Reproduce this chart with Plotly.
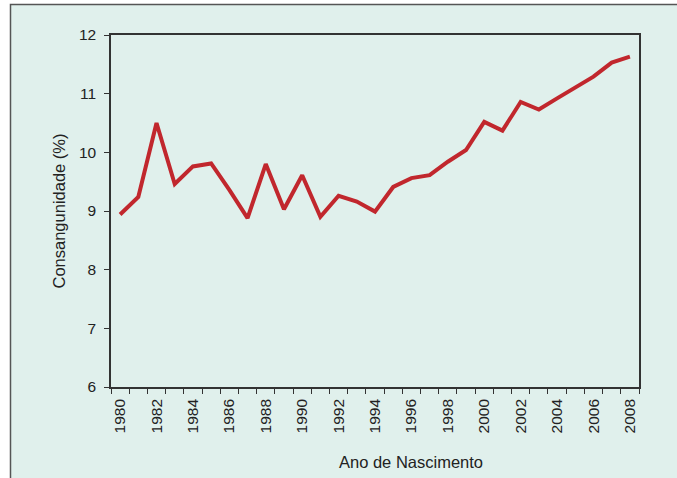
import plotly.graph_objects as go

years = list(range(1980, 2009))
consang = [8.94, 9.24, 10.50, 9.46, 9.76, 9.81, 9.36, 8.88, 9.80, 9.03,
           9.61, 8.90, 9.26, 9.16, 8.99, 9.41, 9.56, 9.61, 9.84, 10.04,
           10.52, 10.37, 10.86, 10.73, 10.92, 11.10, 11.29, 11.53, 11.63]
x_tick_labels = [str(y) for y in range(1980, 2009, 2)]
y_ticks = [6, 7, 8, 9, 10, 11, 12]

BG = "#E0F0EC"
FONT = "Liberation Sans, Arial, sans-serif"
FS = 16.5
TFS = 15.5

fig = go.Figure()
fig.add_trace(go.Scatter(
    x=years, y=consang, mode="lines",
    line=dict(color="#C1272D", width=4),
    hoverinfo="skip", showlegend=False,
))

L, R, T, B = 111, 38, 35, 91
W, H = 677, 478
pw, ph = W - L - R, H - T - B

def px2x(p):
    return (p - L) / pw

def px2y(q):
    return (H - B - q) / ph

fig.add_shape(type="rect", xref="paper", yref="paper",
              x0=px2x(10.5), x1=px2x(W + 10), y0=px2y(H + 10), y1=px2y(4.5),
              line=dict(color="#555555", width=1.5), fillcolor=BG, layer="below")

fig.add_annotation(text="Ano de Nascimento", xref="paper", yref="paper",
                   x=px2x(411), y=px2y(462), xanchor="center", yanchor="middle",
                   showarrow=False,
                   font=dict(family=FONT, size=FS, color="#222222"))

fig.update_layout(
    width=W, height=H,
    margin=dict(l=L, r=R, t=T, b=B, autoexpand=False),
    paper_bgcolor="white",
    plot_bgcolor=BG,
    font=dict(family=FONT, size=TFS, color="#222222"),
    xaxis=dict(
        range=[1979.5, 2008.5],
        tickmode="array",
        tickvals=[int(t) for t in x_tick_labels],
        ticktext=x_tick_labels,
        tickangle=-90,
        ticks="",
        ticklabelstandoff=4,
        showgrid=False, zeroline=False,
        showline=True, linecolor="#333333", linewidth=1.5, mirror=True,
        minor=dict(tickmode="linear", tick0=1979.5, dtick=1, ticks="outside",
                   ticklen=5, tickcolor="#333333", tickwidth=1.2, showgrid=False),
        automargin=False,
        fixedrange=True,
    ),
    yaxis=dict(
        range=[6, 12],
        tickmode="array",
        tickvals=y_ticks,
        ticktext=[str(v) for v in y_ticks],
        ticks="outside", ticklen=5, tickcolor="#333333", tickwidth=1.2,
        ticklabelstandoff=5,
        showgrid=False, zeroline=False,
        showline=True, linecolor="#333333", linewidth=1.5, mirror=True,
        title=dict(text="Consangunidade (%)", standoff=9,
                   font=dict(family=FONT, size=FS, color="#222222")),
        automargin=False,
        fixedrange=True,
    ),
)

fig.write_html(
    "out.html",
    config={"displayModeBar": False},
    post_script="document.body.style.margin='0';document.body.style.overflow='hidden';",
)
